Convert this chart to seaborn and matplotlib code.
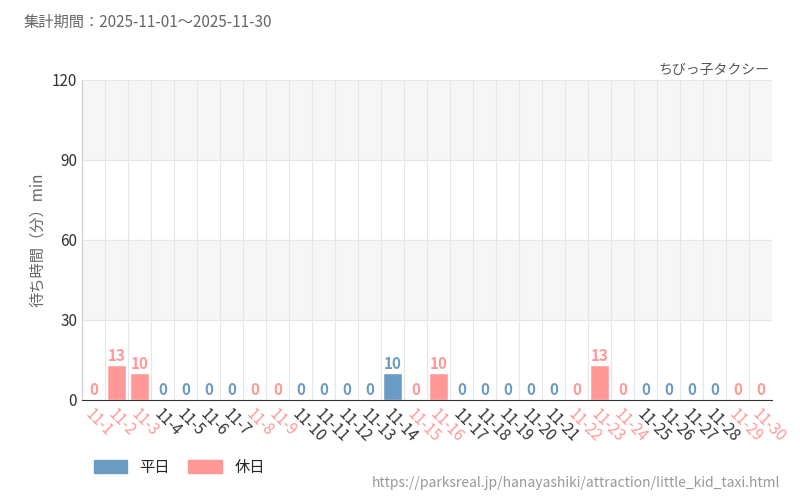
import matplotlib
matplotlib.use("Agg")
import matplotlib.pyplot as plt
import seaborn as sns
import pandas as pd
from matplotlib.patches import Patch

sns.set_style("white")
plt.rcParams['font.family'] = ['Noto Sans CJK JP', 'DejaVu Sans']

days = [f"11-{i}" for i in range(1, 31)]
holidays = [1, 2, 3, 8, 9, 15, 16, 22, 23, 24, 29, 30]
waits = [0, 13, 10, 0, 0, 0, 0, 0, 0, 0, 0, 0, 0, 10, 0, 10,
         0, 0, 0, 0, 0, 0, 13, 0, 0, 0, 0, 0, 0, 0]

blue = "#6a9bc4"
pink = "#ff9896"
kind = ["休日" if i + 1 in holidays else "平日" for i in range(30)]
df = pd.DataFrame({"day": days, "wait": waits, "kind": kind})

fig = plt.figure(figsize=(8, 5), dpi=100)
ax = fig.add_axes([0.1025, 0.2, 0.8625, 0.64])

for lo in (30, 90):
    ax.axhspan(lo, lo + 30, color="#f6f6f6", zorder=0)
for y in (30, 60, 90, 120):
    ax.axhline(y, color="#e6e6e6", lw=0.8, zorder=0.5)
for i in range(31):
    ax.axvline(i - 0.5, color="#e6e6e6", lw=0.8, zorder=0.5)

sns.barplot(data=df, x="day", y="wait", hue="kind",
            palette={"平日": blue, "休日": pink}, dodge=False, saturation=1,
            width=0.8, legend=False, ax=ax, zorder=2)

for i, (v, k) in enumerate(zip(waits, kind)):
    c = pink if k == "休日" else blue
    ax.text(i, v + 0.6, str(v), ha="center", va="bottom", color=c,
            fontsize=11, fontweight="bold")

ax.set_xlim(-0.5, 29.5)
ax.set_ylim(0, 120)
ax.set_yticks([0, 30, 60, 90, 120])
ax.tick_params(axis="y", labelsize=11, colors="#333333", length=0)
ax.set_xlabel("")
ax.set_ylabel("待ち時間（分）min", color="#666666", fontsize=11)
ax.set_xticks(range(30))
ax.set_xticklabels(days, rotation=-45, ha="left", rotation_mode="anchor", fontsize=11)
for lab, k in zip(ax.get_xticklabels(), kind):
    lab.set_color(pink if k == "休日" else "#333333")
ax.tick_params(axis="x", length=0, pad=4)
for s in ("top", "right"):
    ax.spines[s].set_visible(False)
ax.spines["left"].set_color("#cccccc")
ax.spines["bottom"].set_color("#333333")

fig.text(0.03, 0.955, "集計期間：2025-11-01～2025-11-30", fontsize=11, color="#666666", va="center")
fig.text(0.962, 0.86, "ちびっ子タクシー", fontsize=10, color="#555555", ha="right", va="center")
fig.text(0.975, 0.035, "https://parksreal.jp/hanayashiki/attraction/little_kid_taxi.html",
         fontsize=10, color="#999999", ha="right", va="center")
fig.legend(handles=[Patch(color=blue, label="平日"), Patch(color=pink, label="休日")],
           loc="center left", bbox_to_anchor=(0.1, 0.065), ncol=2, frameon=False,
           fontsize=11, handlelength=2.2, handleheight=0.9, columnspacing=1.2)

fig.savefig("out.png", dpi=100)
